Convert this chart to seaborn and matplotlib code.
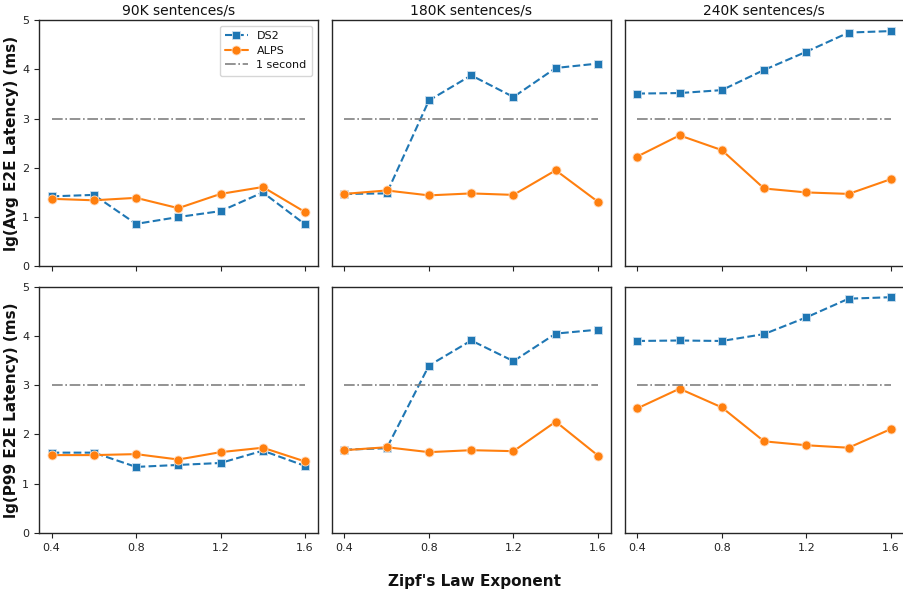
import numpy as np
import pandas as pd
import matplotlib
matplotlib.use("Agg")
import matplotlib.pyplot as plt
import seaborn as sns

# Zipf exponents on the x axis
zipf = [0.4, 0.6, 0.8, 1.0, 1.2, 1.4, 1.6]
rates = ["90K sentences/s", "180K sentences/s", "240K sentences/s"]

# lg(avg latency), one list per rate
ds2_avg_90 = [1.42, 1.45, 0.86, 1.00, 1.12, 1.50, 0.85]
alps_avg_90 = [1.37, 1.34, 1.39, 1.18, 1.47, 1.61, 1.10]
ds2_avg_180 = [1.47, 1.48, 3.37, 3.88, 3.44, 4.03, 4.12]
alps_avg_180 = [1.47, 1.54, 1.44, 1.48, 1.45, 1.95, 1.31]
ds2_avg_240 = [3.51, 3.52, 3.58, 3.99, 4.36, 4.75, 4.78]
alps_avg_240 = [2.23, 2.66, 2.36, 1.58, 1.50, 1.47, 1.77]

# lg(p99 latency)
ds2_p99_90 = [1.63, 1.63, 1.34, 1.38, 1.42, 1.67, 1.36]
alps_p99_90 = [1.58, 1.58, 1.60, 1.49, 1.64, 1.73, 1.45]
ds2_p99_180 = [1.69, 1.72, 3.40, 3.91, 3.49, 4.05, 4.13]
alps_p99_180 = [1.68, 1.74, 1.64, 1.68, 1.66, 2.26, 1.57]
ds2_p99_240 = [3.90, 3.91, 3.90, 4.04, 4.38, 4.76, 4.79]
alps_p99_240 = [2.53, 2.93, 2.55, 1.86, 1.78, 1.73, 2.11]

one_second = 3  # lg(1000 ms)

rows = [
    ("lg(Avg E2E Latency) (ms)",
     [(ds2_avg_90, alps_avg_90), (ds2_avg_180, alps_avg_180), (ds2_avg_240, alps_avg_240)]),
    ("lg(P99 E2E Latency) (ms)",
     [(ds2_p99_90, alps_p99_90), (ds2_p99_180, alps_p99_180), (ds2_p99_240, alps_p99_240)]),
]

sns.set_style("ticks")
plt.rcParams["font.family"] = ["DejaVu Sans"]
plt.rcParams["text.color"] = "#111111"
plt.rcParams["axes.labelcolor"] = "#111111"

fig, axes = plt.subplots(2, 3, figsize=(9.04, 5.96), dpi=100, sharex=True, sharey=True)
fig.subplots_adjust(left=0.043, right=0.9995, top=0.966, bottom=0.106, wspace=0.05, hspace=0.084)

for r, (ylabel, panels) in enumerate(rows):
    for c, (ds2, alps) in enumerate(panels):
        ax = axes[r, c]
        sns.lineplot(x=zipf, y=ds2, ax=ax, color="#1f77b4", marker="s", markersize=6,
                     linestyle="--", linewidth=1.5, markeredgecolor="#cfe0ee",
                     markeredgewidth=0.6, label="DS2")
        sns.lineplot(x=zipf, y=alps, ax=ax, color="#ff7f0e", marker="o", markersize=6.5,
                     linewidth=1.5, markeredgecolor="#ffd9b8", markeredgewidth=0.6,
                     label="ALPS")
        sns.lineplot(x=zipf, y=[one_second] * len(zipf), ax=ax, color="grey", linestyle="-.",
                     linewidth=1.2, label="1 second")
        ax.set_ylim(0, 5)
        ax.set_xticks([0.4, 0.8, 1.2, 1.6])
        ax.set_xticklabels(["0.4", "0.8", "1.2", "1.6"])
        ax.set_yticks([0, 1, 2, 3, 4, 5])
        ax.tick_params(labelsize=8, length=3.5, colors="#222222")
        for s in ax.spines.values():
            s.set_color("#262626")
            s.set_linewidth(1.0)
        if r == 0:
            ax.set_title(rates[c], fontsize=10, pad=4)
        if c == 0:
            ax.set_ylabel(ylabel, fontsize=11, fontweight="bold")
            ax.yaxis.set_label_coords(-0.072, 0.5)
        else:
            ax.tick_params(axis="y", left=False)
        if r == 0 and c == 0:
            ax.legend(loc="upper right", fontsize=8, framealpha=0.8, handlelength=2.0,
                      borderpad=0.5, labelspacing=0.4)
        else:
            ax.get_legend().remove()

fig.text(0.525, 0.017, "Zipf's Law Exponent", ha="center", fontsize=11, fontweight="bold")

fig.savefig("out.png", dpi=100)
